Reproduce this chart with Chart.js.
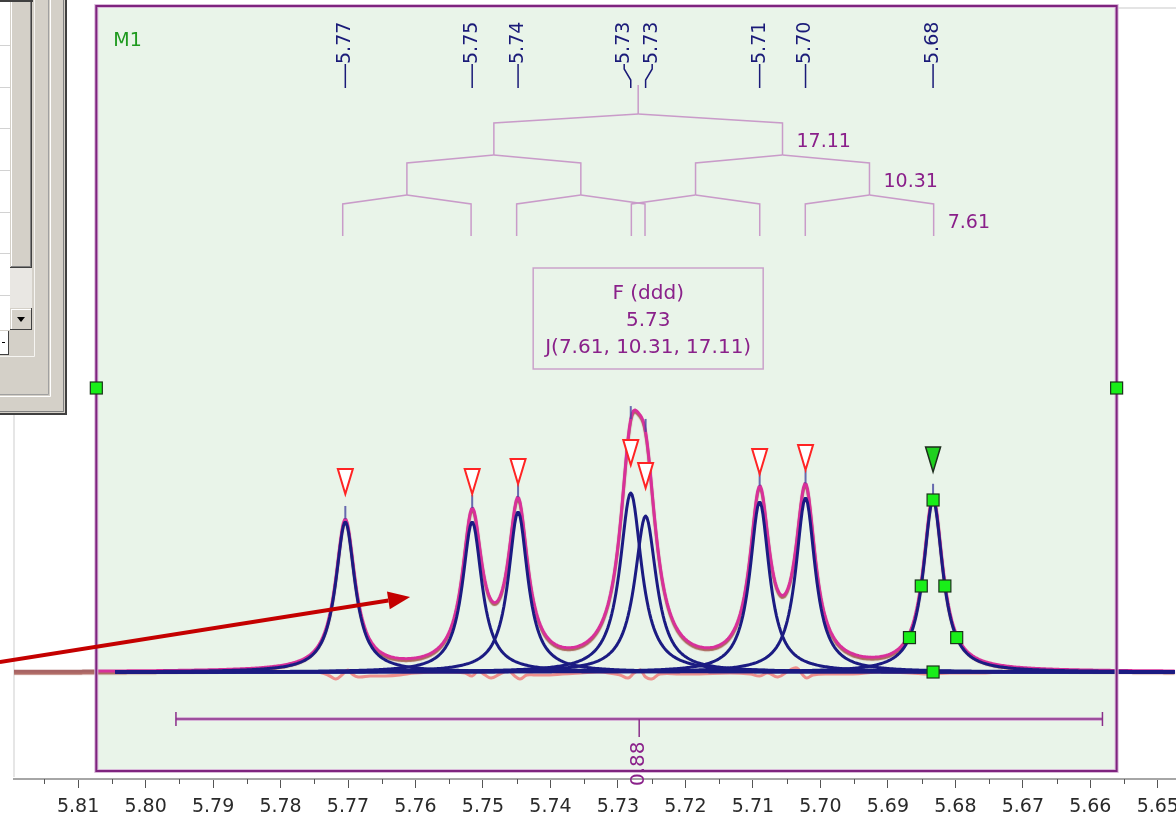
<!DOCTYPE html>
<html>
<head>
<meta charset="utf-8">
<script src="https://cdn.jsdelivr.net/npm/chart.js@4.4.1/dist/chart.umd.min.js"></script>
<style>
  html, body { margin: 0; padding: 0; background: #ffffff; }
  canvas { display: block; }
</style>
</head>
<body>
<canvas id="nmr" width="1176" height="826"></canvas>
<script>
// ---- axis ----
const xTickValues = [5.81, 5.80, 5.79, 5.78, 5.77, 5.76, 5.75, 5.74, 5.73, 5.72, 5.71, 5.70, 5.69, 5.68, 5.67, 5.66, 5.65];
const xMinorTickValues = [5.815, 5.805, 5.795, 5.785, 5.775, 5.765, 5.755, 5.745, 5.735, 5.725, 5.715, 5.705, 5.695, 5.685, 5.675, 5.665, 5.655];
const xRange = [5.6473, 5.8195];          // ppm shown (min, max)
const yRange = [-107, 672];               // intensity window

// ---- fitted peak table (GSD) ----
const peakPpm    = [5.7704, 5.7516, 5.7448, 5.7281, 5.7259, 5.7090, 5.7022, 5.6833];
const peakHeight = [150, 150, 160, 179, 156, 170, 174, 172];
const peakWidth  = [0.0035, 0.0035, 0.0035, 0.0039, 0.0039, 0.0035, 0.0035, 0.0035]; // FWHM, ppm
const peakSelected = [false, false, false, false, false, false, false, true];

// ---- multiplet analysis ----
const multipletName = 'F (ddd)';
const multipletCenter = 5.7270;
const couplingsHz = [7.61, 10.31, 17.11];
const spectrometerMHz = 400;
const integralRange = [5.7955, 5.6582];
const integralValue = 0.88;
const integralLevel = -47;
const fitRange = [5.8073, 5.6561];
const componentStart = 5.8045;

// ---- fit residual ----
const residualPpm = [5.7742, 5.7727, 5.7718, 5.7709, 5.7700, 5.7694, 5.7685, 5.7667, 5.7645, 5.7623,
                     5.7601, 5.7564, 5.7527, 5.7516, 5.7507, 5.7497, 5.7488, 5.7475, 5.7462, 5.7453,
                     5.7445, 5.7435, 5.7423, 5.7401, 5.7382, 5.7356, 5.7327, 5.7297, 5.7285, 5.7276,
                     5.7267, 5.7259, 5.7250, 5.7238, 5.7208, 5.7179, 5.7134, 5.7104, 5.7090, 5.7078,
                     5.7063, 5.7045, 5.7035, 5.7026, 5.7020, 5.7011, 5.6986, 5.6952, 5.6912, 5.6867,
                     5.6838, 5.6808, 5.6764, 5.6734];
const residualValue = [0, -4, -7, -3, 2, -2, -5, -4, -4, -3,
                       -1, 0, -1, -4, 1, -3, -6, -2, 1, -4,
                       -7, -3, -3, -3, -2, -1, 0, -3, -6, -1,
                       2, -5, -7, -2, -2, -2, -1, -2, -4, -1,
                       -5, 2, 4, -3, -6, -3, -2, -2, 0, -1,
                       -2, -1, -1, 0];

// ---- arrow annotation (ppm, intensity) ----
const arrowFrom = [5.8216, 10];
const arrowTo = [5.7608, 75];

// Lorentzian line of one fitted peak
function lorentz(x, i) {
  const t = 2 * (x - peakPpm[i]) / peakWidth[i];
  return peakHeight[i] / (1 + t * t);
}
function fitSum(x) {
  let s = 0;
  for (let i = 0; i < peakPpm.length; i++) s += lorentz(x, i);
  return s;
}

// spectrum digitisation grid
const grid = [];
for (let k = 0; ; k++) {
  const x = xRange[1] - k * 0.0002;
  if (x < xRange[0]) break;
  grid.push(+x.toFixed(5));
}

const NAVY = '#1b1b82';
const PINK = '#d8309a';
const PURPLE = '#8a1f8a';
const TREE = '#c99bc9';

const datasets = [];
peakPpm.forEach((p, i) => {
  datasets.push({
    label: 'Peak ' + (i + 1),
    data: grid.filter(x => x <= componentStart).map(x => ({ x, y: lorentz(x, i) })),
    borderColor: NAVY, borderWidth: 3, order: 1
  });
});
datasets.push({
  label: 'Sum',
  data: grid.map(x => ({ x, y: fitSum(x) })),
  borderColor: PINK, borderWidth: 3, order: 2,
  segment: { borderColor: c => (c.p0.parsed.x > fitRange[0] ? '#a86464' : PINK) }
});
datasets.push({
  label: 'Residual',
  data: residualPpm.map((x, i) => ({ x, y: residualValue[i] })),
  borderColor: 'rgba(240,100,100,0.7)', borderWidth: 3, tension: 0.4, order: 3
});

function X(chart, v) { return chart.scales.x.getPixelForValue(v); }
function Y(chart, v) { return chart.scales.y.getPixelForValue(v); }

function line(ctx, pts, color, w) {
  ctx.beginPath();
  ctx.moveTo(pts[0][0], pts[0][1]);
  for (let i = 1; i < pts.length; i++) ctx.lineTo(pts[i][0], pts[i][1]);
  ctx.strokeStyle = color; ctx.lineWidth = w; ctx.stroke();
}

function vText(ctx, txt, x, y, color, font) {
  ctx.save();
  ctx.translate(x, y);
  ctx.rotate(-Math.PI / 2);
  ctx.font = font; ctx.fillStyle = color;
  ctx.textAlign = 'left'; ctx.textBaseline = 'middle';
  ctx.fillText(txt, 0, 0);
  ctx.restore();
}

// window chrome on the left
function drawPanel(ctx) {
  ctx.fillStyle = '#d4d0c8'; ctx.fillRect(0, 0, 67, 415);
  ctx.fillStyle = '#404040'; ctx.fillRect(65, 0, 2, 415); ctx.fillRect(0, 413, 67, 2);
  ctx.fillStyle = '#808080'; ctx.fillRect(63, 0, 1, 412); ctx.fillRect(0, 411, 64, 1);
  line(ctx, [[50.5, 0], [50.5, 396.5], [0, 396.5]], '#ffffff', 1);
  line(ctx, [[48.5, 0], [48.5, 394.5], [0, 394.5]], '#a0a0a0', 1);
  line(ctx, [[34.5, 0], [34.5, 356.5], [0, 356.5]], '#f6f5f2', 1);
  // list area
  ctx.fillStyle = '#ffffff'; ctx.fillRect(0, 2, 10, 328);
  [45, 87, 128, 170, 212, 253, 295].forEach(y => { ctx.fillStyle = '#d2d2d2'; ctx.fillRect(0, y, 10, 1); });
  ctx.fillStyle = '#404040'; ctx.fillRect(0, 0, 33, 2);
  // scroll thumb
  ctx.fillStyle = '#d4d0c8'; ctx.fillRect(10, 2, 22, 266);
  ctx.fillStyle = '#ffffff'; ctx.fillRect(11, 2, 1, 265);
  ctx.fillStyle = '#404040'; ctx.fillRect(31, 2, 1, 266); ctx.fillRect(10, 267, 22, 1);
  ctx.fillStyle = '#808080'; ctx.fillRect(30, 2, 1, 265); ctx.fillRect(11, 266, 20, 1);
  // track
  ctx.fillStyle = '#e9e7e3'; ctx.fillRect(10, 268, 22, 40);
  // down button
  ctx.fillStyle = '#d4d0c8'; ctx.fillRect(10, 308, 22, 22);
  ctx.fillStyle = '#ffffff'; ctx.fillRect(11, 309, 1, 20); ctx.fillRect(11, 309, 20, 1);
  ctx.fillStyle = '#404040'; ctx.fillRect(31, 308, 1, 22); ctx.fillRect(10, 329, 22, 1);
  ctx.fillStyle = '#000000';
  ctx.beginPath(); ctx.moveTo(17, 317); ctx.lineTo(25, 317); ctx.lineTo(21, 322); ctx.closePath(); ctx.fill();
  // small box below the list
  ctx.fillStyle = '#ffffff'; ctx.fillRect(0, 331, 8, 23);
  ctx.fillStyle = '#404040'; ctx.fillRect(8, 331, 1, 24); ctx.fillRect(0, 354, 9, 1);
  ctx.fillStyle = '#000000'; ctx.fillRect(2, 342, 3, 1);
}

const decorPlugin = {
  id: 'decor',
  beforeDraw(chart) {
    const ctx = chart.ctx;
    const l = X(chart, fitRange[0]), r = X(chart, fitRange[1]);
    ctx.save();
    ctx.fillStyle = '#ffffff'; ctx.fillRect(0, 0, chart.width, chart.height);
    ctx.fillStyle = '#e4e4e4'; ctx.fillRect(r, 7, chart.width - r, 2);
    ctx.fillStyle = '#e6e6e6'; ctx.fillRect(13, 415, 2, 362);
    ctx.fillStyle = '#e9f4e9'; ctx.fillRect(l, 6, r - l, 765);
    ctx.restore();
  },
  beforeDatasetDraw(chart, args) {
    if (chart.data.datasets[args.index].label === 'Sum') {
      const ctx = chart.ctx;
      ctx.save();
      ctx.shadowColor = 'rgba(150,55,45,0.75)';
      ctx.shadowOffsetY = 2; ctx.shadowBlur = 1;
    }
  },
  afterDatasetDraw(chart, args) {
    if (chart.data.datasets[args.index].label === 'Sum') chart.ctx.restore();
  },
  afterDatasetsDraw(chart) {
    const ctx = chart.ctx;
    const l = X(chart, fitRange[0]), r = X(chart, fitRange[1]);
    ctx.save();
    ctx.lineCap = 'butt';

    // fit window frame
    ctx.strokeStyle = '#d9b8d9'; ctx.lineWidth = 4; ctx.strokeRect(l, 6, r - l, 765);
    ctx.strokeStyle = '#7e237e'; ctx.lineWidth = 2; ctx.strokeRect(l, 6, r - l, 765);

    ctx.font = '19px "DejaVu Sans"'; ctx.fillStyle = '#1f9a1f';
    ctx.textAlign = 'left'; ctx.textBaseline = 'middle';
    ctx.fillText('M1', l + 17, 41);

    // peak labels with leaders
    const pxs = peakPpm.map(p => X(chart, p));
    const lx = pxs.slice();
    for (let i = 0; i < pxs.length - 1; i++) {
      if (pxs[i + 1] - pxs[i] < 22) {
        const m = (pxs[i] + pxs[i + 1]) / 2;
        lx[i] = m - 14; lx[i + 1] = m + 14;
      }
    }
    peakPpm.forEach((p, i) => {
      vText(ctx, p.toFixed(2), lx[i], 64, '#1a1a78', '19px "DejaVu Sans"');
      if (Math.abs(lx[i] - pxs[i]) < 0.5) {
        line(ctx, [[pxs[i], 64], [pxs[i], 88]], '#1a1a78', 1.5);
      } else {
        line(ctx, [[lx[i], 64], [lx[i], 69], [pxs[i], 80], [pxs[i], 88]], '#1a1a78', 1.5);
      }
    });

    // multiplet splitting tree
    const cx = X(chart, multipletCenter);
    line(ctx, [[cx, 85], [cx, 114]], TREE, 1.5);
    const js = couplingsHz.slice().sort((a, b) => b - a);
    const yRoof = [114, 155, 195], yDrop = [123, 163, 204], yEnd = [155, 195, 236];
    let nodes = [multipletCenter];
    js.forEach((j, k) => {
      const half = j / spectrometerMHz / 2;
      const next = [];
      nodes.forEach(n => {
        [n + half, n - half].forEach(c => {
          line(ctx, [[X(chart, n), yRoof[k]], [X(chart, c), yDrop[k]], [X(chart, c), yEnd[k]]], TREE, 1.5);
          next.push(c);
        });
      });
      nodes = next;
      const rightMost = Math.min(...nodes);
      ctx.font = '19px "DejaVu Sans"'; ctx.fillStyle = PURPLE;
      ctx.textAlign = 'left'; ctx.textBaseline = 'middle';
      ctx.fillText(j.toFixed(2), X(chart, rightMost) + 14, (yDrop[k] + yEnd[k]) / 2 + 3);
    });

    // multiplet report box
    const bx = cx + 10;
    ctx.strokeStyle = '#caa2ca'; ctx.lineWidth = 1.5;
    ctx.strokeRect(bx - 115, 268, 230, 101);
    ctx.font = '20px "DejaVu Sans"'; ctx.fillStyle = '#8a218a';
    ctx.textAlign = 'center'; ctx.textBaseline = 'middle';
    ctx.fillText(multipletName, bx, 294);
    ctx.fillText(multipletCenter.toFixed(2), bx, 321);
    ctx.fillText('J(' + couplingsHz.map(v => v.toFixed(2)).join(', ') + ')', bx, 348);

    // peak picking ticks and markers
    peakPpm.forEach((p, i) => {
      const x = pxs[i];
      const ys = Y(chart, fitSum(p));
      line(ctx, [[x, ys], [x, ys - 13]], 'rgba(70,70,160,0.8)', 2);
      const tip = Y(chart, peakHeight[i]) - 28;
      ctx.beginPath();
      ctx.moveTo(x - 7.5, tip - 25); ctx.lineTo(x + 7.5, tip - 25); ctx.lineTo(x, tip); ctx.closePath();
      if (peakSelected[i]) {
        ctx.fillStyle = '#1fd01f'; ctx.fill();
        ctx.strokeStyle = '#1d2d1d'; ctx.lineWidth = 1.5; ctx.stroke();
      } else {
        ctx.fillStyle = '#ffffff'; ctx.fill();
        ctx.strokeStyle = '#ff2424'; ctx.lineWidth = 2; ctx.stroke();
      }
    });

    // handles of the selected peak
    function handle(x, y) {
      ctx.fillStyle = '#19ee19'; ctx.fillRect(x - 6, y - 6, 12, 12);
      ctx.strokeStyle = '#1b331b'; ctx.lineWidth = 1.2; ctx.strokeRect(x - 6, y - 6, 12, 12);
    }
    peakPpm.forEach((p, i) => {
      if (!peakSelected[i]) return;
      const h = peakHeight[i], w = peakWidth[i];
      handle(X(chart, p), Y(chart, h));
      handle(X(chart, p + w / 2), Y(chart, h / 2));
      handle(X(chart, p - w / 2), Y(chart, h / 2));
      handle(X(chart, p + w), Y(chart, h / 5));
      handle(X(chart, p - w), Y(chart, h / 5));
      handle(X(chart, p), Y(chart, 0));
    });

    // frame side handles
    handle(l, 388); handle(r, 388);

    // integral bracket
    const il = X(chart, integralRange[0]), ir = X(chart, integralRange[1]), iy = Y(chart, integralLevel);
    const im = (il + ir) / 2;
    line(ctx, [[il, iy], [ir, iy]], '#d7b3d7', 4);
    line(ctx, [[il, iy], [ir, iy]], '#8a2e8a', 1.5);
    line(ctx, [[il, iy - 7], [il, iy + 7]], '#8a2e8a', 1.5);
    line(ctx, [[ir, iy - 7], [ir, iy + 7]], '#8a2e8a', 1.5);
    line(ctx, [[im, iy], [im, iy + 18]], '#8a2e8a', 1.5);
    ctx.restore();
  },
  afterDraw(chart) {
    const ctx = chart.ctx;
    ctx.save();
    // minor axis ticks
    const xs = chart.scales.x;
    ctx.strokeStyle = '#555555'; ctx.lineWidth = 1;
    xMinorTickValues.forEach(v => {
      const x = Math.round(xs.getPixelForValue(v)) + 0.5;
      ctx.beginPath(); ctx.moveTo(x, xs.top); ctx.lineTo(x, xs.top + 5); ctx.stroke();
    });
    // integral value
    const il = X(chart, integralRange[0]), ir = X(chart, integralRange[1]);
    vText(ctx, integralValue.toFixed(2), (il + ir) / 2, 786, '#8a218a', '20px "DejaVu Sans"');

    // arrow
    const x0 = X(chart, arrowFrom[0]), y0 = Y(chart, arrowFrom[1]);
    const x1 = X(chart, arrowTo[0]), y1 = Y(chart, arrowTo[1]);
    const a = Math.atan2(y1 - y0, x1 - x0);
    const hl = 22, hw = 9;
    const bxp = x1 - hl * Math.cos(a), byp = y1 - hl * Math.sin(a);
    line(ctx, [[x0, y0], [bxp, byp]], '#c40000', 4);
    ctx.beginPath();
    ctx.moveTo(x1, y1);
    ctx.lineTo(bxp + hw * Math.sin(a), byp - hw * Math.cos(a));
    ctx.lineTo(bxp - hw * Math.sin(a), byp + hw * Math.cos(a));
    ctx.closePath(); ctx.fillStyle = '#c40000'; ctx.fill();

    drawPanel(ctx);
    ctx.restore();
  }
};

new Chart(document.getElementById('nmr'), {
  type: 'line',
  data: { datasets },
  plugins: [decorPlugin],
  options: {
    responsive: false,
    devicePixelRatio: 1,
    animation: false,
    parsing: false,
    normalized: true,
    layout: { padding: { left: 14, right: 0, top: 0, bottom: 0 } },
    elements: { point: { radius: 0 }, line: { tension: 0, borderJoinStyle: 'round' } },
    plugins: { legend: { display: false }, tooltip: { enabled: false } },
    scales: {
      x: {
        type: 'linear', reverse: true, position: 'bottom',
        min: xRange[0], max: xRange[1],
        afterBuildTicks: s => { s.ticks = xTickValues.map(v => ({ value: v })); },
        afterFit: s => { s.height = 47; s.paddingLeft = 0; s.paddingRight = 0; },
        ticks: {
          autoSkip: false, maxRotation: 0, padding: 8,
          color: '#2a2a2a', font: { family: 'DejaVu Sans', size: 19 },
          callback: v => v.toFixed(2)
        },
        grid: { drawOnChartArea: false, drawTicks: true, tickLength: 9, tickColor: '#555555', tickWidth: 1 },
        border: { display: true, color: '#a6a6a6', width: 2 }
      },
      y: { display: false, min: yRange[0], max: yRange[1] }
    }
  }
});
</script>
</body>
</html>
